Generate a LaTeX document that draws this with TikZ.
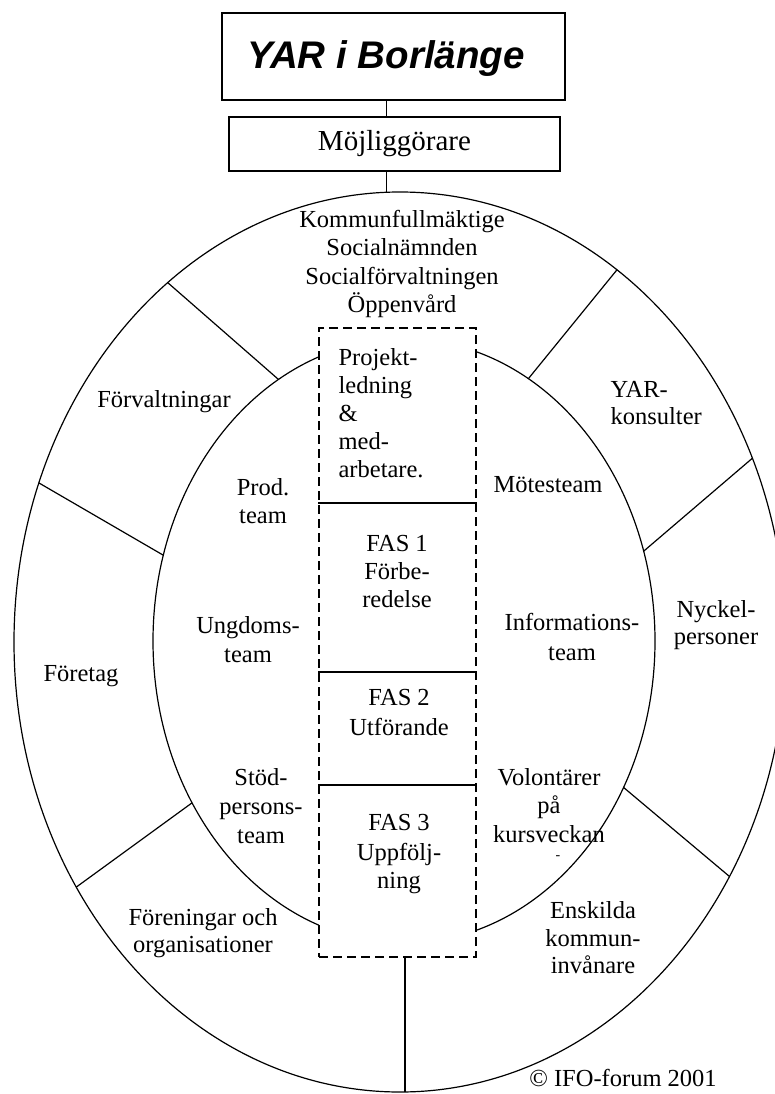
\documentclass[tikz,border=0pt]{standalone}
\usepackage{fontspec}
\setmainfont{Liberation Serif}
\newfontfamily\titlefont{Liberation Sans}
\usetikzlibrary{calc}
\begin{document}
\begin{tikzpicture}[x=1pt,y=-1pt,line width=1.2pt,
  lbl/.style={inner sep=0pt,font=\fontsize{24.5}{28}\selectfont,align=center,anchor=north},
  lbll/.style={inner sep=0pt,font=\fontsize{24.5}{28}\selectfont,align=left,anchor=north west},
  boxed/.style={draw,inner sep=0pt},
  phasebox/.style={draw,dash pattern=on 9pt off 5pt,fill=white,inner sep=0pt},
  ringline/.style={line width=1.2pt}]
\useasboundingbox (0,0) rectangle (775,1094);
\clip (0,0) rectangle (775,1094);
\fill[white] (0,0) rectangle (775,1094);

% rings
\coordinate (O) at (400,642);
\coordinate (I) at (404,641);
\draw[ringline] (O) ellipse [x radius=386pt, y radius=450pt];
\draw[ringline] (I) ellipse [x radius=251pt, y radius=302pt];

% radial separators
\foreach \n/\a/\b in {1/127/120, 2/159.3/163.5, 3/213/212.4, 4/55.8/60.3, 5/24.1/17.3, 6/-31.4/-29}{
  \coordinate (o\n) at ({400+386*cos(\a)},{642-450*sin(\a)});
  \coordinate (i\n) at ({404+251*cos(\b)},{641-302*sin(\b)});
  \draw[ringline] (o\n) -- (i\n);
}

% top boxes
\node[boxed,minimum width=343pt,minimum height=87pt] (title) at (393.5,56.5) {};
\node[anchor=base,inner sep=0pt,font=\titlefont\bfseries\itshape\fontsize{38.5}{42}\selectfont] (titletext) at (386,69) {YAR i Borlänge};
\node[boxed,minimum width=331pt,minimum height=54pt,font=\fontsize{29}{32}\selectfont] (moj) at (394.5,144) {Möjliggörare};
\coordinate (top) at (386.5,192.3);
\draw ([xshift=-7pt]title.south) -- ([xshift=-8pt]moj.north);
\draw ([xshift=-8pt]moj.south) -- (top);

% phase column
\node[phasebox,minimum width=157pt,minimum height=629pt] (phase) at (397.5,642.5) {};
\coordinate (d1) at (0,503);
\coordinate (d2) at (0,672);
\coordinate (d3) at (0,785);
\draw (phase.west |- d1) -- (phase.east |- d1);
\draw (phase.west |- d2) -- (phase.east |- d2);
\draw (phase.west |- d3) -- (phase.east |- d3);
\coordinate (bot) at (405,1092);
\draw ([xshift=7.5pt]phase.south) -- (bot);

% texts in the middle column
\node[lbl] (kommun) at (402,210) {Kommunfullmäktige\\Socialnämnden\\[1pt]Socialförvaltningen\\[0pt]Öppenvård};
\node[lbll] (projekt) at (338,348) {Projekt-\\ledning\\\&\\med-\\arbetare.};
\node[lbl] (fas1) at (397,535) {FAS 1\\Förbe-\\redelse};
\node[lbl] (fas2) at (399,689) {FAS 2\\[2pt]Utförande};
\node[lbl] (fas3) at (399,814) {FAS 3\\[2pt]Uppfölj-\\ning};

% inner ring, left
\node[lbl] (prod) at (263,478) {Prod.\\team};
\node[lbl] (ungdom) at (248,616) {Ungdoms-\\[1pt]team};
\node[lbl] (stod) at (261,768) {Stöd-\\[1pt]persons-\\[1pt]team};

% inner ring, right
\node[lbl] (mote) at (548,476) {Mötesteam};
\node[lbl] (info) at (572,613) {Informations-\\[2pt]team};
\node[lbl] (volont) at (549,768) {Volontärer\\[0pt]på\\[1pt]kursveckan};
\node[inner sep=0pt,font=\fontsize{14}{16}\selectfont] (dash) at (558,858) {-};

% outer ring
\node[lbl] (forvalt) at (164,390) {Förvaltningar};
\node[lbl] (foretag) at (81,665) {Företag};
\node[lbl] (forening) at (203,908) {Föreningar och\\[-1pt]organisationer};
\node[lbll] (yar) at (610,381) {YAR-\\[-1pt]konsulter};
\node[lbl] (nyckel) at (716,600) {Nyckel-\\[-1pt]personer};
\node[lbl] (enskilda) at (593,901) {Enskilda\\kommun-\\[-1pt]invånare};
\node[lbl] (copy) at (623,1069) {© IFO-forum 2001};
\end{tikzpicture}
\end{document}
